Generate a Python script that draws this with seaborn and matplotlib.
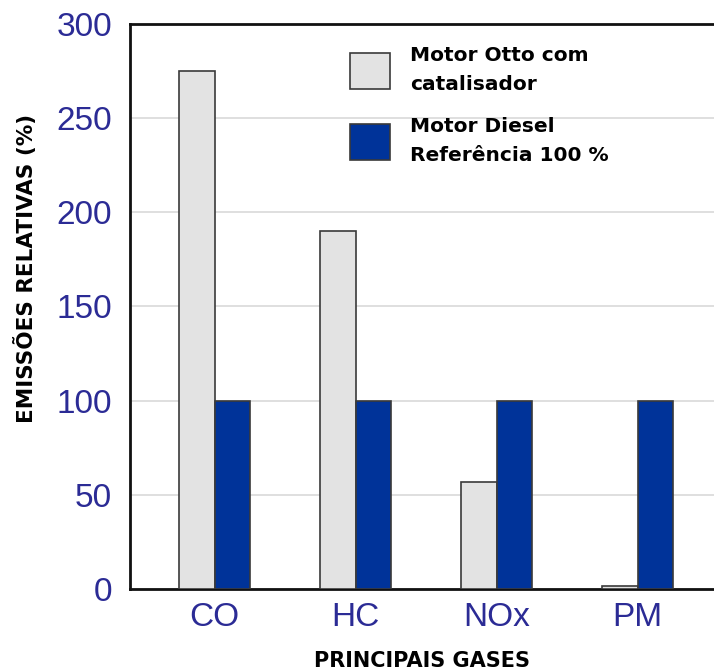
import matplotlib
matplotlib.use("Agg")
import matplotlib.pyplot as plt
import seaborn as sns
import pandas as pd

categories = ["CO", "HC", "NOx", "PM"]
otto = [275, 190, 57, 1.5]
diesel = [100, 100, 100, 100]
series_names = ["Motor Otto com\ncatalisador", "Motor Diesel\nReferência 100 %"]
yticks = [0, 50, 100, 150, 200, 250, 300]

df = pd.DataFrame({
    "gas": categories * 2,
    "valor": otto + diesel,
    "serie": [series_names[0]] * len(categories) + [series_names[1]] * len(categories),
})

sns.set_style("white")
plt.rcParams['font.family'] = ['DejaVu Sans']

fig = plt.figure(figsize=(7.14, 6.71), dpi=100)
ax_w = 598 / 714
ax = fig.add_axes([130 / 714, 1 - 589 / 671, ax_w, (589 - 24) / 671])

palette = {series_names[0]: "#e3e3e3", series_names[1]: "#003399"}
sns.barplot(data=df, x="gas", y="valor", hue="serie", palette=palette, width=0.5,
            edgecolor="#3a3a3a", linewidth=1.2, saturation=1, ax=ax, zorder=3)

ax.set_ylim(0, 300)
ax.set_xlim(-0.6, 3.64)
ax.set_yticks(yticks)
ax.yaxis.grid(True, color="#d9d9d9", linewidth=1.2, zorder=0)
ax.set_axisbelow(True)
ax.tick_params(axis="x", length=0, pad=9)
ax.tick_params(axis="y", length=0, pad=13)
for lab in ax.get_yticklabels() + ax.get_xticklabels():
    lab.set_fontfamily("Liberation Sans")
    lab.set_fontsize(24)
    lab.set_color("#2b2b95")

for s in ["left", "top", "bottom"]:
    ax.spines[s].set_color("#111111")
    ax.spines[s].set_linewidth(2)
ax.spines["right"].set_visible(False)

ax.set_ylabel("EMISSÕES RELATIVAS (%)", fontsize=15.5, fontweight="bold", color="black")
ax.set_xlabel("PRINCIPAIS GASES", fontsize=15, fontweight="bold", color="black")
ax.yaxis.set_label_coords((37 - 130) / 598, (589 - 268) / 565)
ax.xaxis.set_label_coords((422 - 130) / 598, -(651 - 589) / 565)

leg = ax.legend(loc="upper left", bbox_to_anchor=((350 - 130) / 598, (589 - 46) / 565),
                frameon=False, borderpad=0, borderaxespad=0,
                fontsize=14.5, handlelength=2.0, handleheight=2.4,
                labelspacing=1.15, handletextpad=1.0)
for t in leg.get_texts():
    t.set_fontweight("bold")
    t.set_color("black")
    t.set_linespacing(1.65)

fig.savefig("out.png", dpi=100)
